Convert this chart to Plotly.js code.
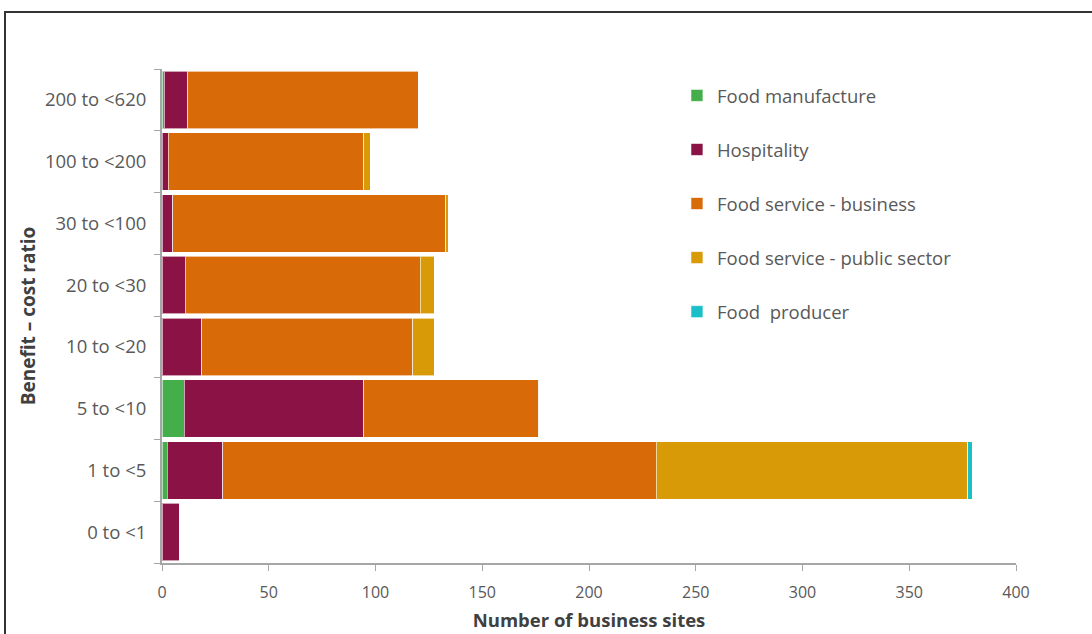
<!DOCTYPE html>
<html>
<head>
<meta charset="utf-8">
<script src="https://cdn.plot.ly/plotly-3.0.1.min.js"></script>
<style>
  html, body { margin: 0; padding: 0; background: #fff; }
  #chart { width: 1092px; height: 634px; }
  #frame { position: absolute; left: 4px; top: 11px; width: 1200px; height: 700px;
           border: 2px solid #333; pointer-events: none; box-sizing: border-box; }
</style>
</head>
<body>
<div id="chart"></div>
<div id="frame"></div>
<script>
// Categories, bottom to top
const categories = ["0 to <1", "1 to <5", "5 to <10", "10 to <20", "20 to <30", "30 to <100", "100 to <200", "200 to <620"];

const seriesNames = ["Food manufacture", "Hospitality", "Food service - business", "Food service - public sector", "Food  producer"];
const seriesColors = ["#43AE4A", "#8A1244", "#D86A08", "#D89A06", "#1BBFC8"];

const foodManufacture   = [0, 2.5, 10.5, 0, 0, 0, 0, 1];
const hospitality       = [8, 26, 84, 18.5, 11, 5, 3, 11];
const foodServiceBiz    = [0, 203, 82, 99, 110, 128, 91.5, 108];
const foodServicePublic = [0, 146, 0, 10, 6.5, 1, 3, 0];
const foodProducer      = [0, 2, 0, 0, 0, 0, 0, 0];

const seriesValues = [foodManufacture, hospitality, foodServiceBiz, foodServicePublic, foodProducer];

const traces = seriesNames.map((name, i) => ({
  type: "bar",
  orientation: "h",
  name: name,
  y: categories,
  x: seriesValues[i],
  legendgroup: "g" + i,
  marker: { color: seriesColors[i], line: { color: "rgba(255,255,255,0.6)", width: 1 } },
  hoverinfo: "x+name"
}));

const layout = {
  width: 1092,
  height: 634,
  barmode: "stack",
  bargap: 0.07,
  paper_bgcolor: "#fff",
  plot_bgcolor: "#fff",
  font: { family: "Open Sans, sans-serif", color: "#595959", size: 16 },
  margin: { l: 162, r: 76, t: 69, b: 71 },
  xaxis: {
    range: [0, 400],
    dtick: 50,
    showgrid: false,
    zeroline: false,
    showline: true,
    linecolor: "#A6A6A6",
    linewidth: 2,
    ticks: "outside",
    ticklen: 6,
    tickcolor: "#A6A6A6",
    ticklabelstandoff: 8,
    tickfont: { size: 16, color: "#595959" },
    title: { text: "<b>Number of business sites</b>", font: { size: 18.5, color: "#404040" }, standoff: 12 }
  },
  yaxis: {
    type: "category",
    showgrid: false,
    zeroline: false,
    showline: true,
    linecolor: "#A6A6A6",
    linewidth: 2,
    ticks: "outside",
    tickson: "boundaries",
    ticklen: 6,
    tickcolor: "#A6A6A6",
    ticklabelstandoff: 10,
    tickfont: { size: 18.5, color: "#595959" },
    title: { text: "<b>Benefit – cost ratio</b>", font: { size: 19, color: "#404040" }, standoff: 4 }
  },
  legend: {
    x: 0.603, y: 0.984,
    xanchor: "left", yanchor: "top",
    traceorder: "grouped",
    tracegroupgap: 27,
    itemwidth: 30,
    font: { size: 18.5, color: "#595959" },
    bgcolor: "rgba(0,0,0,0)"
  },
  showlegend: true
};

Plotly.newPlot("chart", traces, layout, { displayModeBar: false, staticPlot: true });
</script>
</body>
</html>
